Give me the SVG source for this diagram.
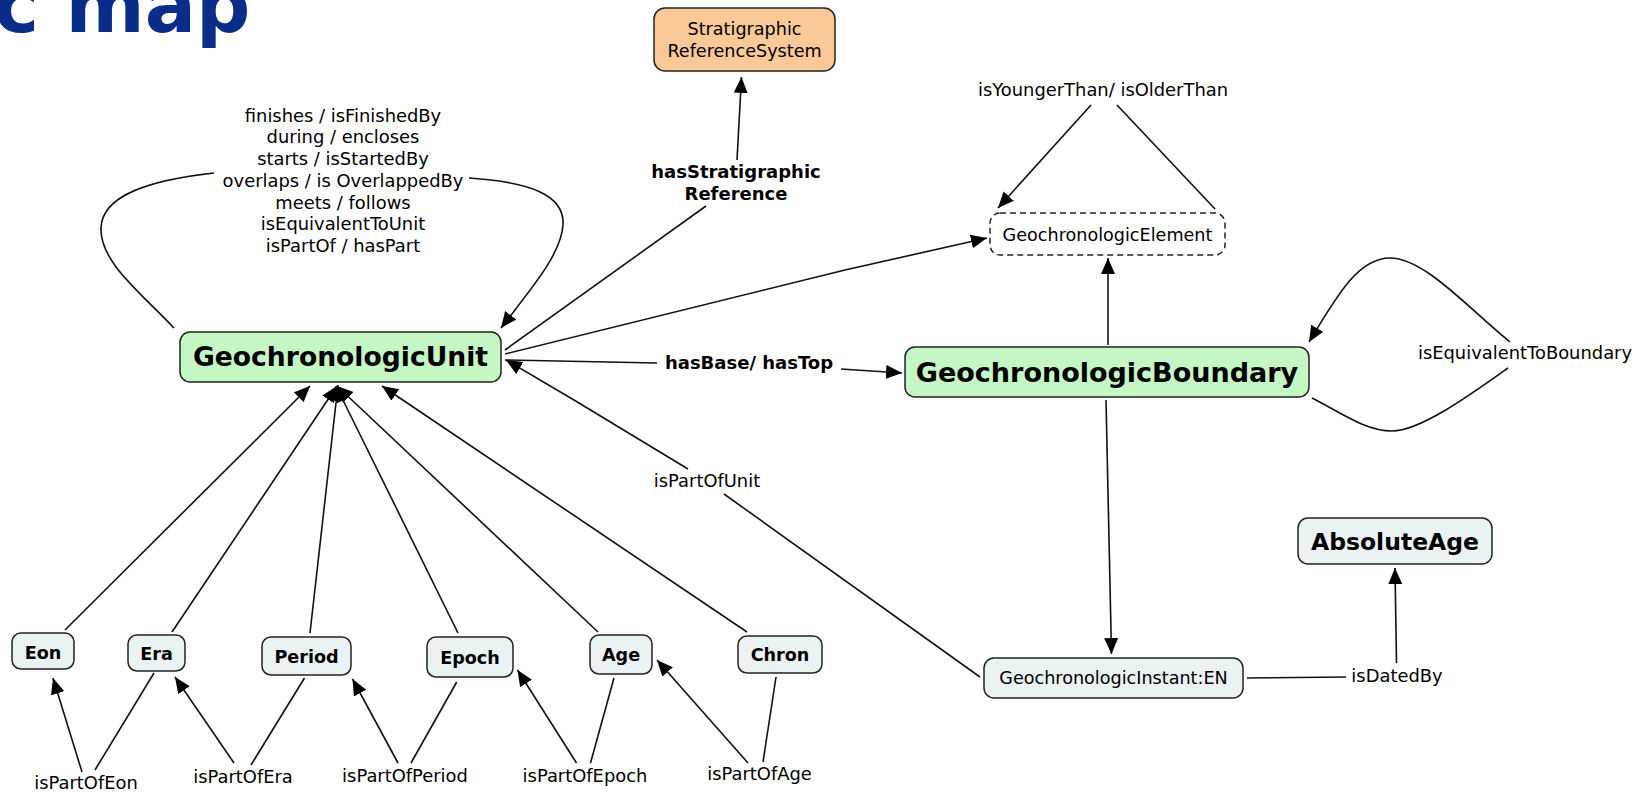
<svg xmlns="http://www.w3.org/2000/svg" width="1645" height="792" viewBox="0 0 1645 792">
  <defs>
    <marker id="arrow" markerUnits="userSpaceOnUse" markerWidth="17" markerHeight="15" refX="16" refY="7" orient="auto">
      <path d="M0,0 L16,7 L0,14 z" fill="#000"/>
    </marker>
    <style>
      .node rect { stroke: #222; stroke-width: 1.5; }
      .green { fill: #c4f7c4; }
      .orange { fill: #fbc997; }
      .grey { fill: #ebf2f4; }
      .dashed { fill: #fff; stroke-dasharray: 6 4; }
      text { font-family: "DejaVu Sans", Verdana, sans-serif; fill: #000; }
      .t { font-size: 17.6px; text-anchor: middle; }
      .b { font-size: 17.6px; font-weight: bold; text-anchor: middle; }
      .lbl { font-size: 17.9px; text-anchor: middle; }
      .blbl { font-size: 18px; font-weight: bold; text-anchor: middle; }
      #connectors path { fill: none; stroke: #111; stroke-width: 1.6; }
      #connectors path.a { marker-end: url(#arrow); }
    </style>
  </defs>

  <rect width="1645" height="792" fill="#fff"/>

  <!-- title -->
  <text x="-6" y="32" style="font-size:76px;font-weight:bold;fill:#0b2c88">c map</text>

  <!-- connectors -->
  <g id="connectors">
    <!-- temporal relations loop on GeochronologicUnit -->
    <path d="M174,328 C140,292 100,262 101,228 C102,195 150,180 214,173"/>
    <path class="a" d="M469,178 C530,182 565,195 563,225 C561,255 530,290 501,328"/>
    <!-- hasStratigraphicReference -->
    <path d="M505,350 L706,206"/>
    <path class="a" d="M737,160 L741.5,77"/>
    <!-- GeochronologicUnit to GeochronologicElement -->
    <path class="a" d="M505,354 L845,270 L987,238"/>
    <!-- hasBase / hasTop -->
    <path d="M505,360 L657,363"/>
    <path class="a" d="M841,369 L902,373"/>
    <!-- isPartOfUnit -->
    <path d="M980,677 L724,494"/>
    <path class="a" d="M688,469 L574,400 L506,360"/>
    <!-- GeochronologicBoundary to GeochronologicElement -->
    <path class="a" d="M1108,345 L1108,258"/>
    <!-- isYoungerThan / isOlderThan -->
    <path class="a" d="M1091,105 L998,208"/>
    <path d="M1117,105 L1215,209"/>
    <!-- isEquivalentToBoundary loop -->
    <path d="M1312,398 C1340,412 1365,431 1392,431 C1420,431 1470,395 1508,368"/>
    <path class="a" d="M1510,342 C1470,310 1425,258 1390,258 C1360,258 1340,290 1309,342"/>
    <!-- GeochronologicBoundary to GeochronologicInstant -->
    <path class="a" d="M1106,400 L1111.5,654"/>
    <!-- isDatedBy -->
    <path d="M1247,678 L1346,677"/>
    <path class="a" d="M1396.5,663 L1395,568"/>
    <!-- subclasses to GeochronologicUnit -->
    <path class="a" d="M65,630 L310,386"/>
    <path class="a" d="M172,632 L337,386"/>
    <path class="a" d="M310,633 L338,385"/>
    <path class="a" d="M458,633 L336,386"/>
    <path class="a" d="M598,632 L337,386"/>
    <path class="a" d="M747,632 L382,386"/>
    <!-- isPartOf chain -->
    <path class="a" d="M82,772 L53,678"/>
    <path d="M95,770 L154,673"/>
    <path class="a" d="M234,763 L175,677"/>
    <path d="M251,765 L304.5,678"/>
    <path class="a" d="M398,763 L352.5,679"/>
    <path d="M411,763 L456.7,682"/>
    <path class="a" d="M576.5,763 L517.5,670"/>
    <path d="M590.5,763 L614,678"/>
    <path class="a" d="M748,763 L657,660"/>
    <path d="M763,762 L776,677"/>
  </g>

  <!-- connector labels -->
  <g id="labels">
    <text class="lbl" x="343" y="121.5">finishes / isFinishedBy</text>
    <text class="lbl" x="343" y="143.3">during / encloses</text>
    <text class="lbl" x="343" y="165">starts / isStartedBy</text>
    <text class="lbl" x="343" y="186.7">overlaps / is OverlappedBy</text>
    <text class="lbl" x="343" y="208.5">meets / follows</text>
    <text class="lbl" x="343" y="230.2">isEquivalentToUnit</text>
    <text class="lbl" x="343" y="252">isPartOf / hasPart</text>
    <text class="blbl" x="736" y="178">hasStratigraphic</text>
    <text class="blbl" x="736" y="199.5">Reference</text>
    <text class="blbl" x="749" y="369">hasBase/ hasTop</text>
    <text class="lbl" x="1103" y="96">isYoungerThan/ isOlderThan</text>
    <text class="lbl" x="1525" y="359">isEquivalentToBoundary</text>
    <text class="lbl" x="707" y="487">isPartOfUnit</text>
    <text class="lbl" x="1397" y="681.5">isDatedBy</text>
    <text class="lbl" x="86" y="789">isPartOfEon</text>
    <text class="lbl" x="243" y="783">isPartOfEra</text>
    <text class="lbl" x="405" y="781.5">isPartOfPeriod</text>
    <text class="lbl" x="585" y="781.5">isPartOfEpoch</text>
    <text class="lbl" x="759.5" y="780">isPartOfAge</text>
  </g>

  <!-- nodes -->
  <g id="n-strat" class="node">
    <rect class="orange" x="654" y="8" width="181" height="63" rx="11"/>
    <text class="t" x="744.5" y="34.5">Stratigraphic</text>
    <text class="t" x="744.5" y="56.5">ReferenceSystem</text>
  </g>
  <g id="n-unit" class="node">
    <rect class="green" x="180" y="332" width="321" height="50" rx="10"/>
    <text x="340.5" y="366" style="font-size:26.6px;font-weight:bold;text-anchor:middle">GeochronologicUnit</text>
  </g>
  <g id="n-element" class="node">
    <rect class="dashed" x="990" y="213" width="235" height="42" rx="10"/>
    <text class="t" x="1107.5" y="240.5">GeochronologicElement</text>
  </g>
  <g id="n-boundary" class="node">
    <rect class="green" x="905" y="347" width="404" height="50" rx="10"/>
    <text x="1107" y="381.5" style="font-size:27px;font-weight:bold;text-anchor:middle">GeochronologicBoundary</text>
  </g>
  <g id="n-instant" class="node">
    <rect class="grey" x="984" y="658" width="259" height="40" rx="10"/>
    <text class="t" x="1113.5" y="684">GeochronologicInstant:EN</text>
  </g>
  <g id="n-absage" class="node">
    <rect class="grey" x="1298" y="518" width="194" height="46" rx="10"/>
    <text x="1395" y="549.5" style="font-size:23.5px;font-weight:bold;text-anchor:middle">AbsoluteAge</text>
  </g>
  <g id="n-eon" class="node">
    <rect class="grey" x="12" y="633" width="62" height="36" rx="9"/>
    <text class="b" x="43" y="658.5">Eon</text>
  </g>
  <g id="n-era" class="node">
    <rect class="grey" x="128" y="635" width="57" height="36" rx="9"/>
    <text class="b" x="156.5" y="660">Era</text>
  </g>
  <g id="n-period" class="node">
    <rect class="grey" x="262" y="637" width="89" height="38" rx="9"/>
    <text class="b" x="306.5" y="662.5">Period</text>
  </g>
  <g id="n-epoch" class="node">
    <rect class="grey" x="427" y="637" width="86" height="40" rx="9"/>
    <text class="b" x="470" y="663.5">Epoch</text>
  </g>
  <g id="n-age" class="node">
    <rect class="grey" x="590" y="635" width="62" height="39" rx="9"/>
    <text class="b" x="621" y="660.5">Age</text>
  </g>
  <g id="n-chron" class="node">
    <rect class="grey" x="738" y="636" width="84" height="37" rx="9"/>
    <text class="b" x="780" y="661">Chron</text>
  </g>
</svg>
